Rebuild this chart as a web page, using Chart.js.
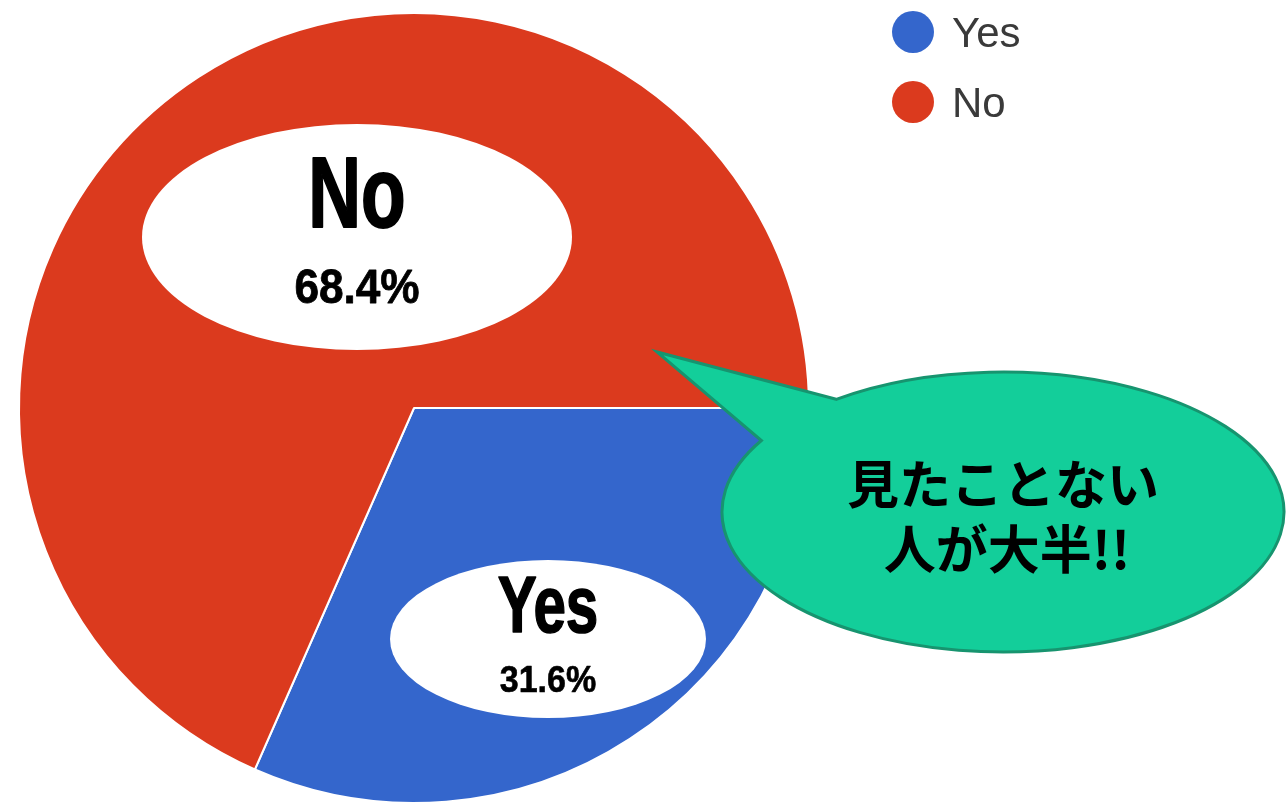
<!DOCTYPE html>
<html>
<head>
<meta charset="utf-8">
<script src="https://cdn.jsdelivr.net/npm/chart.js@4/dist/chart.umd.min.js"></script>
<style>
  html, body { margin: 0; background: #fff; }
  #wrap { width: 1286px; height: 809px; position: relative; }
</style>
</head>
<body>
<div id="wrap"><canvas id="pieChart"></canvas></div>
<script>
// answers (percent)
const labels = ["Yes", "No"];
const values = [31.6, 68.4];
const colors = ["#3466cc", "#db3a1e"];
const calloutLines = ["見たことない", "人が大半!!"];

// white ovals with the answer + percent, one per slice
const tagBoxes = [
  { x: 548, y: 639, rx: 158, ry: 79, nameSize: 80, nameBase: 632, pctSize: 37, pctBase: 692 },
  { x: 357, y: 237, rx: 215, ry: 113, nameSize: 100, nameBase: 227, pctSize: 48, pctBase: 303 }
];

// condensed heavy text: squeeze horizontally, thicken with a stroke
function heavyText(ctx, text, x, y, sx, weight) {
  ctx.save();
  ctx.translate(x, y);
  ctx.scale(sx, 1);
  if (weight > 0) {
    ctx.lineWidth = weight;
    ctx.lineJoin = "round";
    ctx.strokeText(text, 0, 0);
  }
  ctx.fillText(text, 0, 0);
  ctx.restore();
}

const overlays = {
  id: "overlays",
  afterDraw(chart) {
    const ctx = chart.ctx;
    const ds = chart.data.datasets[0];

    // slice tags
    chart.data.labels.forEach((name, i) => {
      const b = tagBoxes[i];
      ctx.save();
      ctx.fillStyle = "#fff";
      ctx.beginPath();
      ctx.ellipse(b.x, b.y, b.rx, b.ry, 0, 0, Math.PI * 2);
      ctx.fill();
      ctx.fillStyle = "#000";
      ctx.strokeStyle = "#000";
      ctx.textAlign = "center";
      ctx.textBaseline = "alphabetic";
      ctx.font = "bold " + b.nameSize + "px 'Liberation Sans', Arial, sans-serif";
      heavyText(ctx, name, b.x, b.nameBase, 0.73, b.nameSize / 50);
      ctx.font = "bold " + b.pctSize + "px 'Liberation Sans', Arial, sans-serif";
      heavyText(ctx, ds.data[i].toFixed(1) + "%", b.x, b.pctBase, 0.92, b.pctSize / 60);
      ctx.restore();
    });

    // legend, top right
    ctx.save();
    ctx.font = "42px 'Liberation Sans', Arial, sans-serif";
    ctx.textBaseline = "alphabetic";
    ctx.textAlign = "left";
    chart.data.labels.forEach((name, i) => {
      const cy = 32 + i * 70;
      ctx.fillStyle = ds.backgroundColor[i];
      ctx.beginPath();
      ctx.arc(913, cy, 21, 0, Math.PI * 2);
      ctx.fill();
      ctx.fillStyle = "#3a3a3a";
      ctx.fillText(name, 952, cy + 15);
    });
    ctx.restore();

    // speech bubble
    const cx = 1003, cy = 512, rx = 281, ry = 140;
    const a1 = 233.6 * Math.PI / 180;
    const a2 = 210.7 * Math.PI / 180;
    ctx.save();
    ctx.beginPath();
    ctx.moveTo(cx + rx * Math.cos(a1), cy + ry * Math.sin(a1));
    ctx.lineTo(657, 352);
    ctx.lineTo(cx + rx * Math.cos(a2), cy + ry * Math.sin(a2));
    ctx.ellipse(cx, cy, rx, ry, 0, a2, a1, true);
    ctx.closePath();
    ctx.fillStyle = "#13ce9a";
    ctx.fill();
    ctx.lineWidth = 3;
    ctx.lineJoin = "miter";
    ctx.strokeStyle = "#17946f";
    ctx.stroke();

    ctx.fillStyle = "#000";
    ctx.textAlign = "center";
    ctx.textBaseline = "middle";
    ctx.font = "bold 52px 'Noto Sans CJK JP', sans-serif";
    ctx.fillText(calloutLines[0], cx, 484);
    ctx.fillText(calloutLines[1], cx + 4, 549);
    ctx.restore();
  }
};

new Chart(document.getElementById("pieChart"), {
  type: "pie",
  data: {
    labels: labels,
    datasets: [{
      data: values,
      backgroundColor: colors,
      borderColor: "#ffffff",
      borderWidth: 2,
      hoverOffset: 0
    }]
  },
  options: {
    responsive: true,
    maintainAspectRatio: false,
    animation: false,
    rotation: 90,
    layout: { padding: { left: 18, top: 12, right: 476, bottom: 5 } },
    plugins: {
      legend: { display: false },
      tooltip: { enabled: false }
    }
  },
  plugins: [overlays]
});
</script>
</body>
</html>
